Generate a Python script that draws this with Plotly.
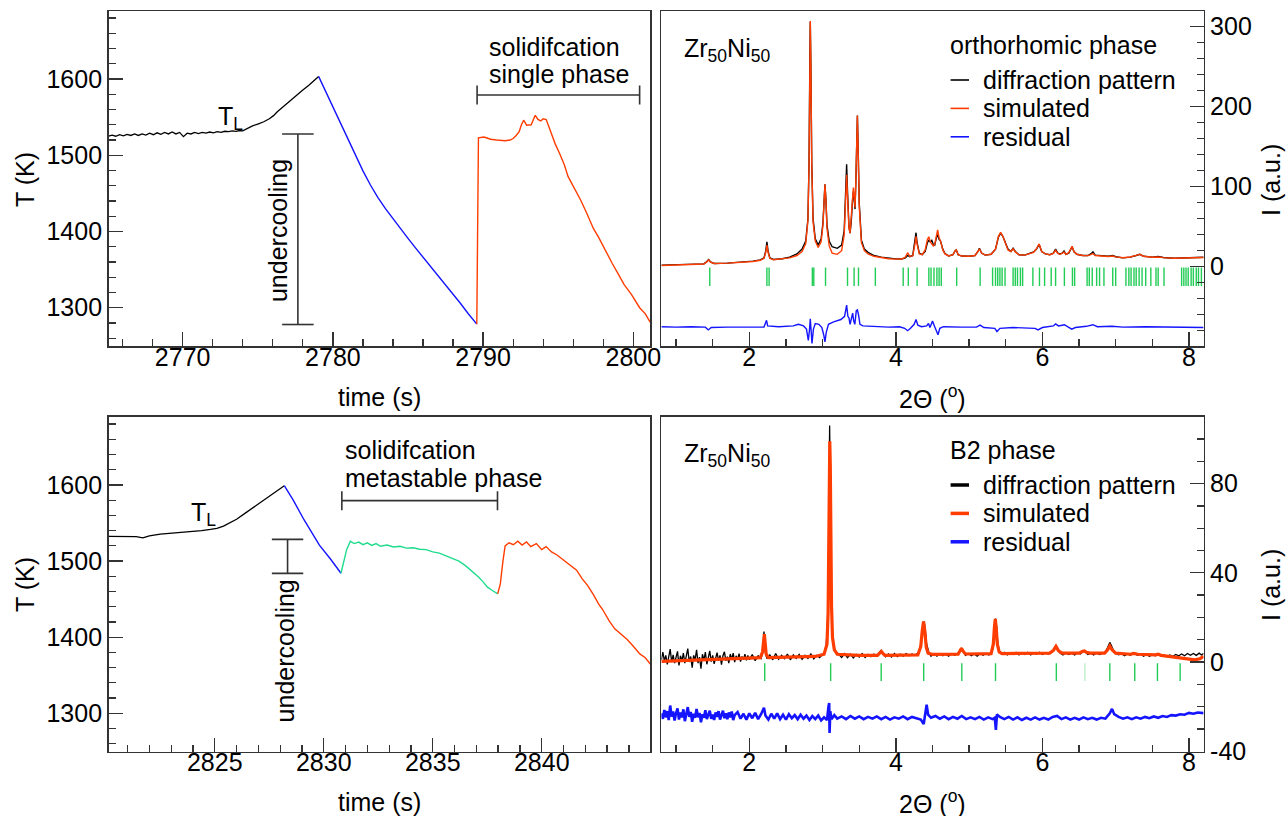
import plotly.graph_objects as go

W, H = 1287, 816
FONT = "Liberation Sans"
FS = 25

# ======================= DATA =======================
# ---- top-left: temperature-time profile, orthorhombic run ----
tl_heat = [(2765.07, 1525), (2765.3, 1526.5), (2765.55, 1525), (2765.8, 1527), (2766.05, 1525.5),
           (2766.3, 1527.5), (2766.55, 1526), (2766.8, 1528), (2767.05, 1526), (2767.3, 1528),
           (2767.55, 1526.5), (2767.8, 1529), (2768.05, 1527), (2768.3, 1529.5), (2768.55, 1527.5),
           (2768.8, 1530), (2769.05, 1528), (2769.3, 1530.5), (2769.55, 1528), (2769.8, 1530),
           (2770.05, 1524.5), (2770.3, 1529), (2770.55, 1528), (2770.8, 1530), (2771.05, 1528.5),
           (2771.3, 1530), (2771.55, 1529), (2771.8, 1530.5), (2772.05, 1529.5), (2772.3, 1531),
           (2772.55, 1530), (2772.8, 1531.5), (2773.05, 1531), (2773.3, 1532), (2773.55, 1531.5),
           (2773.8, 1532.5), (2774.0, 1532), (2774.3, 1535.5), (2774.65, 1538.5), (2775.0, 1541),
           (2775.4, 1544), (2775.77, 1548), (2776.05, 1552), (2776.3, 1557), (2776.7, 1564),
           (2777.2, 1572), (2777.6, 1579), (2778.0, 1585.5), (2778.4, 1592), (2778.7, 1597),
           (2779.05, 1603.5)]
tl_cool = [(2779.05, 1603.5), (2779.5, 1584.3), (2780.0, 1563), (2780.5, 1541.6), (2781.0, 1520.3),
           (2781.5, 1499.5), (2782.0, 1479.5), (2782.5, 1461), (2783.0, 1444.5), (2783.5, 1430),
           (2784.0, 1416.5), (2784.5, 1403.5), (2785.0, 1391), (2785.5, 1378.5), (2786.0, 1366.5),
           (2786.5, 1354.5), (2787.0, 1342.5), (2787.5, 1330.5), (2788.0, 1318), (2788.5, 1305.5),
           (2789.0, 1292.5), (2789.58, 1278.5)]
tl_solid = [(2789.58, 1278.5), (2789.62, 1400), (2789.69, 1523), (2790.06, 1524), (2790.5, 1521),
            (2790.9, 1520), (2791.46, 1519), (2791.8, 1520), (2792.0, 1522), (2792.2, 1526),
            (2792.4, 1531), (2792.55, 1540), (2792.7, 1546), (2792.9, 1539.5), (2793.2, 1540),
            (2793.47, 1552.5), (2793.65, 1547), (2793.84, 1545), (2794.0, 1548), (2794.2, 1547),
            (2794.54, 1528.5), (2794.8, 1515), (2795.1, 1502), (2795.4, 1488), (2795.66, 1472),
            (2796.1, 1456), (2796.5, 1441), (2796.9, 1424), (2797.34, 1404), (2797.7, 1392),
            (2798.18, 1373), (2798.6, 1358), (2799.0, 1344), (2799.4, 1330), (2799.86, 1318),
            (2800.1, 1310), (2800.42, 1300), (2800.8, 1292), (2801.12, 1281)]

# ---- bottom-left: temperature-time profile, metastable (B2) run ----
bl_heat = [(2820.13, 1532.5), (2820.6, 1532), (2821.0, 1532.5), (2821.4, 1532), (2821.7, 1530.5),
           (2822.0, 1533), (2822.5, 1535.5), (2823.0, 1536.5), (2823.5, 1538), (2824.0, 1539),
           (2824.4, 1540), (2824.8, 1541.5), (2825.1, 1543), (2825.4, 1546), (2826.0, 1555),
           (2826.4, 1563), (2826.8, 1571), (2827.1, 1577), (2827.4, 1583), (2827.7, 1589),
           (2828.0, 1595), (2828.19, 1599)]
bl_cool = [(2828.19, 1599), (2828.6, 1580), (2829.1, 1554), (2829.5, 1535), (2829.8, 1521),
           (2830.3, 1503), (2830.79, 1484)]
bl_meta = [(2830.79, 1484), (2830.94, 1501), (2831.05, 1515), (2831.22, 1526), (2831.4, 1523),
           (2831.6, 1525), (2831.8, 1521.5), (2832.0, 1524), (2832.2, 1520.5), (2832.4, 1523),
           (2832.6, 1519.5), (2832.9, 1521), (2833.2, 1518.5), (2833.5, 1519.5), (2833.8, 1517),
           (2834.1, 1517.5), (2834.4, 1515.5), (2834.7, 1515), (2835.0, 1512), (2835.3, 1510.5),
           (2835.6, 1507), (2835.9, 1504), (2836.2, 1500), (2836.5, 1494), (2836.8, 1487),
           (2837.1, 1479), (2837.3, 1473), (2837.5, 1466), (2837.7, 1462), (2837.98, 1457)]
bl_solid = [(2837.98, 1457), (2838.1, 1470), (2838.22, 1500), (2838.32, 1520), (2838.5, 1524),
            (2838.7, 1521.5), (2838.9, 1526), (2839.1, 1521), (2839.3, 1525), (2839.5, 1519),
            (2839.75, 1523), (2840.0, 1515), (2840.2, 1519), (2840.45, 1512), (2840.7, 1508),
            (2841.0, 1501), (2841.3, 1494), (2841.6, 1488), (2841.85, 1477), (2842.1, 1468),
            (2842.37, 1456), (2842.6, 1444), (2842.8, 1436), (2843.1, 1421), (2843.35, 1411),
            (2843.6, 1405), (2843.92, 1397), (2844.2, 1388), (2844.5, 1378), (2844.75, 1373),
            (2845.0, 1364)]

# ---- top-right: orthorhombic phase diffraction ----
tr_obs = [(0.80, 2.0), (1.00, 2.3), (1.20, 2.8), (1.38, 3.5), (1.42, 6.5), (1.445, 9.0), (1.47, 6.0),
          (1.52, 4.0), (1.70, 4.5), (1.90, 5.5), (2.05, 7.0), (2.15, 8.5), (2.20, 11), (2.225, 20),
          (2.24, 31), (2.255, 20), (2.28, 11), (2.33, 9.0), (2.45, 10), (2.55, 12), (2.65, 16),
          (2.72, 22), (2.77, 32), (2.80, 60), (2.815, 130), (2.826, 260), (2.832, 306), (2.840, 250),
          (2.852, 130), (2.87, 60), (2.90, 35), (2.94, 27), (2.98, 35), (3.005, 55), (3.02, 90),
          (3.032, 103), (3.045, 85), (3.06, 52), (3.09, 32), (3.13, 25), (3.20, 23), (3.26, 27),
          (3.295, 45), (3.315, 100), (3.328, 128), (3.34, 95), (3.36, 50), (3.375, 42), (3.39, 55),
          (3.41, 85), (3.42, 94), (3.43, 85), (3.443, 72), (3.455, 110), (3.468, 170), (3.475, 189),
          (3.485, 150), (3.50, 80), (3.53, 33), (3.57, 22), (3.62, 18), (3.70, 14), (3.80, 12),
          (3.90, 10.5), (4.00, 9.8), (4.08, 9.6), (4.13, 11), (4.16, 14), (4.19, 12.5), (4.23, 14),
          (4.26, 30), (4.275, 42.5), (4.29, 30), (4.32, 17), (4.36, 15), (4.40, 19), (4.43, 30),
          (4.45, 33), (4.47, 31), (4.49, 33), (4.51, 28), (4.53, 27), (4.555, 37), (4.57, 40),
          (4.59, 34), (4.61, 32), (4.64, 22), (4.67, 16.5), (4.72, 13.5), (4.78, 15), (4.81, 20),
          (4.825, 21), (4.85, 15), (4.90, 13.3), (5.00, 13), (5.08, 14), (5.12, 19), (5.14, 23),
          (5.17, 17), (5.22, 14.5), (5.30, 15.5), (5.36, 22), (5.40, 37), (5.43, 42), (5.46, 38),
          (5.49, 32), (5.53, 22), (5.57, 19), (5.60, 23), (5.63, 19), (5.68, 15), (5.76, 14.5),
          (5.83, 16.7), (5.88, 18.5), (5.92, 22), (5.955, 28), (5.99, 19), (6.04, 16), (6.10, 15),
          (6.15, 17), (6.18, 22), (6.21, 17), (6.24, 16), (6.27, 17), (6.295, 19.6), (6.32, 15.5),
          (6.36, 17), (6.39, 23), (6.405, 25), (6.43, 19), (6.47, 15.5), (6.55, 14), (6.62, 14),
          (6.66, 16), (6.69, 18.5), (6.72, 14.5), (6.80, 13.5), (6.90, 13), (6.96, 14), (7.00, 12.5),
          (7.10, 11), (7.20, 12), (7.28, 14), (7.33, 15.5), (7.38, 13), (7.50, 12), (7.58, 12.8),
          (7.65, 11.5), (7.80, 10.5), (7.95, 10.8), (8.10, 11.5), (8.20, 11.8)]
tr_sim = [(0.80, 1.5), (1.00, 2.0), (1.20, 2.6), (1.38, 3.4), (1.42, 6.0), (1.445, 8.5), (1.47, 5.8),
          (1.52, 4.0), (1.70, 4.5), (1.90, 5.3), (2.05, 6.6), (2.15, 8.0), (2.20, 10.5), (2.225, 18),
          (2.24, 27), (2.255, 18), (2.28, 10.5), (2.33, 8.8), (2.45, 9.5), (2.55, 11), (2.65, 14),
          (2.72, 19), (2.77, 29), (2.80, 58), (2.815, 128), (2.826, 262), (2.832, 307), (2.840, 252),
          (2.852, 128), (2.87, 56), (2.90, 32), (2.94, 24), (2.98, 31), (3.005, 52), (3.02, 90),
          (3.032, 103), (3.045, 84), (3.06, 48), (3.09, 26), (3.13, 17), (3.20, 15.5), (3.26, 20),
          (3.295, 40), (3.315, 92), (3.328, 115), (3.34, 88), (3.36, 48), (3.375, 42), (3.39, 60),
          (3.41, 92), (3.42, 99), (3.43, 90), (3.443, 74), (3.455, 112), (3.468, 172), (3.475, 189),
          (3.485, 148), (3.50, 76), (3.53, 30), (3.57, 20), (3.62, 16), (3.70, 13), (3.80, 11.5),
          (3.90, 10), (4.00, 9.5), (4.08, 9.6), (4.13, 12), (4.16, 17.5), (4.19, 13), (4.23, 13.5),
          (4.26, 28), (4.275, 38), (4.29, 28), (4.32, 16), (4.36, 15), (4.40, 21), (4.43, 34),
          (4.45, 37.5), (4.47, 31), (4.49, 29), (4.51, 26), (4.53, 28), (4.555, 42), (4.57, 46),
          (4.59, 36), (4.61, 32), (4.64, 21), (4.67, 16), (4.72, 13.5), (4.78, 15), (4.81, 20),
          (4.825, 21), (4.85, 15), (4.90, 13.3), (5.00, 13), (5.08, 14), (5.12, 19), (5.14, 22.5),
          (5.17, 17), (5.22, 14.5), (5.30, 15.5), (5.36, 22), (5.40, 38), (5.43, 43), (5.46, 38),
          (5.49, 31), (5.53, 21), (5.57, 19), (5.60, 22.5), (5.63, 18.5), (5.68, 15), (5.76, 14.5),
          (5.83, 16), (5.88, 18), (5.92, 22.5), (5.955, 28.5), (5.99, 19), (6.04, 16), (6.10, 15),
          (6.15, 16.5), (6.18, 20.5), (6.21, 16.5), (6.24, 15.5), (6.27, 16.5), (6.295, 18.5),
          (6.32, 15.5), (6.36, 17.5), (6.39, 24), (6.405, 25.5), (6.43, 19), (6.47, 15.5), (6.55, 14),
          (6.62, 13.8), (6.66, 15), (6.69, 16.5), (6.72, 14), (6.80, 13.3), (6.90, 12.8), (6.96, 13.3),
          (7.00, 12.3), (7.10, 11.2), (7.20, 12.2), (7.28, 14.2), (7.33, 15.5), (7.38, 13), (7.50, 11.8),
          (7.58, 12.2), (7.65, 11.3), (7.80, 10.5), (7.95, 10.8), (8.10, 11.3), (8.20, 11.6)]
tr_res = [(0.80, -75), (1.0, -75.5), (1.2, -75), (1.40, -75.5), (1.44, -79), (1.48, -76), (1.7, -75.5),
          (2.0, -75), (2.2, -75.5), (2.235, -67), (2.25, -74), (2.4, -75), (2.6, -74), (2.67, -72),
          (2.74, -74), (2.78, -78), (2.805, -92), (2.82, -80), (2.832, -65), (2.845, -82), (2.855, -96),
          (2.875, -78), (2.90, -71), (2.95, -72), (2.99, -76), (3.015, -85), (3.032, -94), (3.05, -82),
          (3.08, -72), (3.15, -69), (3.25, -66), (3.30, -62), (3.328, -48), (3.345, -62), (3.36, -64),
          (3.375, -72), (3.39, -66), (3.41, -58), (3.425, -68), (3.44, -72), (3.46, -55), (3.475, -54),
          (3.49, -60), (3.51, -72), (3.55, -74), (3.7, -75), (3.9, -75.5), (4.05, -75), (4.12, -77),
          (4.16, -80), (4.20, -77), (4.25, -72), (4.275, -66), (4.30, -73), (4.35, -75), (4.42, -74),
          (4.445, -71), (4.465, -76), (4.50, -68), (4.53, -75), (4.575, -85), (4.60, -77), (4.65, -75),
          (4.9, -75.5), (5.1, -75.5), (5.15, -73), (5.2, -76), (5.35, -77), (5.38, -81), (5.42, -77),
          (5.6, -76), (5.9, -77), (5.94, -79), (6.0, -76), (6.15, -74), (6.18, -71.5), (6.22, -74),
          (6.30, -72.5), (6.34, -75), (6.40, -78), (6.45, -76), (6.6, -74.5), (6.69, -72.5),
          (6.75, -75), (6.95, -74.5), (7.1, -75.5), (7.4, -75), (7.8, -75.5), (8.2, -76)]
tr_bragg = [1.46, 2.24, 2.27, 2.86, 2.88, 3.04, 3.34, 3.43, 3.49, 3.72, 4.10, 4.17, 4.29, 4.45, 4.48,
            4.52, 4.56, 4.59, 4.62, 4.83, 5.15, 5.32, 5.36, 5.39, 5.42, 5.45, 5.49, 5.60, 5.63, 5.66,
            5.70, 5.73, 5.87, 5.96, 6.03, 6.12, 6.18, 6.30, 6.41, 6.44, 6.61, 6.64, 6.68, 6.74, 6.78,
            6.84, 6.96, 7.00, 7.14, 7.18, 7.21, 7.25, 7.28, 7.32, 7.36, 7.41, 7.48, 7.55, 7.58, 7.66,
            7.90, 7.93, 7.96, 7.99, 8.03, 8.06, 8.10, 8.13, 8.17]

# ---- bottom-right: B2 phase diffraction ----
br_obs = [(0.80, 1.0), (0.82, 4.5), (0.84, 0.5), (0.86, 3.0), (0.88, -1.0), (0.90, 2.5), (0.92, 5.8),
          (0.94, 0.0), (0.96, 3.2), (0.98, -0.5), (1.00, 2.0), (1.02, 4.8), (1.04, -1.5), (1.06, 2.8),
          (1.08, 0.5), (1.10, 4.0), (1.12, -0.5), (1.14, 3.5), (1.16, 6.0), (1.18, 0.0), (1.20, 2.5),
          (1.22, -2.5), (1.24, 3.0), (1.26, 1.0), (1.28, 5.5), (1.30, -0.5), (1.32, 2.2), (1.34, -3.0),
          (1.36, 3.5), (1.38, 0.8), (1.40, 4.5), (1.42, -1.0), (1.44, 2.6), (1.46, 5.0), (1.48, 0.2),
          (1.50, 3.0), (1.52, -0.8), (1.54, 2.4), (1.56, 4.2), (1.58, 0.5), (1.60, 3.0), (1.62, -1.2),
          (1.64, 2.8), (1.66, 4.6), (1.68, 0.6), (1.70, 2.4), (1.72, -0.5), (1.74, 3.6), (1.76, 1.2),
          (1.78, 4.0), (1.80, 0.0), (1.82, 2.8), (1.84, 1.0), (1.86, 3.8), (1.88, 0.2), (1.90, 2.5),
          (1.92, 1.0), (1.94, 3.5), (1.96, 0.8), (1.98, 3.0), (2.00, 1.0), (2.04, 3.4), (2.08, 0.6),
          (2.12, 2.8), (2.16, 1.6), (2.18, 4.0), (2.19, 9.0), (2.20, 13.7), (2.21, 9.0), (2.22, 4.0),
          (2.24, 1.5), (2.28, 3.2), (2.32, 1.0), (2.36, 3.8), (2.40, 1.2), (2.44, 3.0), (2.48, 1.5),
          (2.52, 3.6), (2.56, 1.0), (2.60, 3.2), (2.64, 1.6), (2.68, 3.4), (2.72, 1.2), (2.76, 3.0),
          (2.80, 1.6), (2.84, 3.6), (2.88, 1.4), (2.92, 3.0), (2.96, 2.0), (3.00, 3.5), (3.03, 4.5),
          (3.05, 8), (3.07, 20), (3.08, 45), (3.09, 85), (3.096, 106), (3.105, 80), (3.115, 42),
          (3.125, 20), (3.14, 10), (3.17, 5), (3.22, 3.5), (3.26, 2.0), (3.30, 3.8), (3.34, 2.0),
          (3.38, 3.6), (3.42, 1.8), (3.46, 3.4), (3.50, 2.2), (3.54, 3.8), (3.58, 2.0), (3.62, 3.4),
          (3.66, 2.4), (3.70, 3.6), (3.74, 2.6), (3.77, 4.0), (3.80, 5.2), (3.83, 3.6), (3.86, 2.4),
          (3.90, 3.6), (3.94, 2.2), (3.98, 3.8), (4.02, 2.4), (4.06, 3.6), (4.10, 2.6), (4.14, 3.8),
          (4.18, 2.8), (4.22, 3.6), (4.26, 3.0), (4.30, 4.0), (4.33, 6.0), (4.35, 11), (4.37, 17),
          (4.385, 18.2), (4.40, 15), (4.42, 8), (4.45, 4.5), (4.48, 2.6), (4.52, 3.8), (4.56, 2.6),
          (4.60, 3.8), (4.64, 2.8), (4.68, 3.6), (4.72, 2.6), (4.76, 3.8), (4.80, 3.0), (4.84, 3.6),
          (4.87, 5.0), (4.895, 6.3), (4.92, 4.6), (4.95, 3.0), (4.99, 3.8), (5.03, 2.8), (5.07, 3.6),
          (5.11, 2.6), (5.15, 3.8), (5.19, 3.0), (5.23, 3.8), (5.27, 3.2), (5.31, 4.2), (5.33, 7),
          (5.35, 15), (5.36, 19.5), (5.375, 16), (5.39, 9), (5.41, 5), (5.44, 3.6), (5.48, 4.4),
          (5.52, 3.2), (5.56, 4.2), (5.60, 3.4), (5.64, 4.4), (5.68, 3.2), (5.72, 4.2), (5.76, 3.4),
          (5.80, 4.4), (5.84, 3.2), (5.88, 4.2), (5.92, 3.6), (5.96, 4.4), (6.00, 3.4), (6.04, 4.2),
          (6.08, 3.6), (6.12, 4.4), (6.15, 5.0), (6.175, 6.8), (6.19, 7.2), (6.21, 5.6), (6.24, 4.0),
          (6.28, 3.2), (6.32, 4.2), (6.36, 3.4), (6.40, 4.0), (6.44, 3.2), (6.48, 4.2), (6.52, 3.6),
          (6.56, 5.0), (6.59, 4.4), (6.62, 3.4), (6.66, 4.0), (6.70, 3.2), (6.74, 4.2), (6.78, 3.4),
          (6.82, 4.0), (6.86, 4.6), (6.89, 6.5), (6.92, 8.8), (6.94, 7.5), (6.97, 5.2), (7.00, 3.8),
          (7.04, 3.2), (7.08, 3.8), (7.12, 2.8), (7.16, 3.6), (7.20, 3.0), (7.24, 4.0), (7.27, 3.6),
          (7.30, 3.0), (7.34, 3.6), (7.38, 2.6), (7.42, 3.4), (7.46, 2.6), (7.50, 3.2), (7.54, 2.8),
          (7.58, 3.6), (7.62, 2.6), (7.66, 3.2), (7.70, 2.4), (7.74, 3.2), (7.78, 2.6), (7.82, 3.4),
          (7.86, 2.8), (7.90, 3.6), (7.94, 2.8), (7.98, 3.8), (8.02, 3.0), (8.06, 3.8), (8.10, 3.0),
          (8.14, 4.0), (8.17, 3.2), (8.20, 3.8)]
br_sim = [(0.80, 0.3), (1.2, 0.7), (1.6, 1.2), (2.0, 1.8), (2.15, 2.0), (2.18, 4.5), (2.195, 10),
          (2.205, 12.5), (2.215, 9), (2.23, 3.5), (2.26, 2.0), (2.6, 2.2), (2.9, 2.5), (3.02, 3.5),
          (3.06, 8), (3.075, 22), (3.085, 55), (3.093, 90), (3.098, 99), (3.105, 88), (3.113, 55),
          (3.122, 25), (3.135, 11), (3.16, 5.5), (3.2, 3.5), (3.5, 3.0), (3.75, 3.0), (3.78, 4.3),
          (3.80, 4.8), (3.82, 4.0), (3.85, 3.0), (4.3, 3.2), (4.34, 7), (4.36, 14), (4.378, 18.2),
          (4.395, 14), (4.415, 6.5), (4.44, 4.0), (4.5, 3.4), (4.85, 3.5), (4.88, 5.5), (4.895, 6.2),
          (4.915, 5), (4.95, 3.6), (5.3, 3.8), (5.33, 8), (5.345, 15.5), (5.357, 19.3), (5.37, 15),
          (5.385, 8), (5.41, 4.5), (5.45, 3.8), (6.1, 4.0), (6.15, 5.2), (6.185, 7.0), (6.22, 5.0),
          (6.27, 4.0), (6.5, 4.0), (6.55, 4.8), (6.575, 5.0), (6.60, 4.4), (6.65, 4.0), (6.85, 4.0),
          (6.89, 5.5), (6.92, 7.2), (6.95, 5.5), (7.0, 4.0), (7.2, 3.5), (7.25, 3.9), (7.3, 3.5),
          (7.55, 3.2), (7.58, 3.5), (7.62, 3.0), (7.86, 2.0), (8.0, 1.5), (8.08, 1.0), (8.15, 1.5),
          (8.20, 2.5)]
br_res = [(0.80, -23.0), (0.82, -25.5), (0.84, -21.5), (0.86, -24.8), (0.88, -22.0), (0.90, -26.0),
          (0.92, -19.5), (0.94, -24.5), (0.96, -22.2), (0.98, -26.2), (1.00, -23.0), (1.02, -20.8),
          (1.04, -25.8), (1.06, -22.6), (1.08, -24.8), (1.10, -21.2), (1.12, -26.5), (1.14, -23.0),
          (1.16, -20.2), (1.18, -24.6), (1.20, -22.4), (1.22, -26.8), (1.24, -23.2), (1.26, -25.0),
          (1.28, -21.0), (1.30, -24.8), (1.32, -22.8), (1.34, -27.0), (1.36, -23.4), (1.38, -25.0),
          (1.40, -21.6), (1.42, -25.6), (1.44, -23.2), (1.46, -21.8), (1.48, -25.4), (1.50, -23.6),
          (1.52, -26.0), (1.54, -22.6), (1.56, -24.6), (1.58, -22.0), (1.60, -25.8), (1.62, -23.4),
          (1.64, -21.8), (1.66, -25.2), (1.68, -23.0), (1.70, -25.6), (1.72, -22.6), (1.74, -24.8),
          (1.76, -22.2), (1.78, -26.0), (1.80, -23.8), (1.84, -22.4), (1.88, -25.4), (1.92, -23.2),
          (1.96, -25.8), (2.00, -23.0), (2.04, -25.2), (2.08, -22.8), (2.12, -25.6), (2.16, -23.4),
          (2.20, -20.5), (2.22, -24.0), (2.26, -25.8), (2.30, -23.2), (2.34, -25.4), (2.38, -23.0),
          (2.42, -25.6), (2.46, -23.6), (2.50, -25.8), (2.54, -23.4), (2.58, -25.2), (2.62, -23.8),
          (2.66, -25.6), (2.70, -23.6), (2.74, -25.4), (2.78, -24.0), (2.82, -26.0), (2.86, -24.2),
          (2.90, -25.6), (2.94, -24.0), (2.98, -26.2), (3.02, -24.8), (3.06, -26.0), (3.08, -20.0),
          (3.09, -18.4), (3.095, -31.8), (3.10, -27), (3.105, -22), (3.12, -25.6), (3.16, -23.8),
          (3.20, -25.4), (3.26, -24.4), (3.32, -25.6), (3.38, -24.2), (3.44, -25.4), (3.50, -24.4),
          (3.56, -25.6), (3.62, -24.6), (3.68, -25.4), (3.74, -24.4), (3.80, -25.6), (3.86, -24.6),
          (3.92, -25.8), (3.98, -24.8), (4.04, -25.4), (4.10, -24.4), (4.16, -25.6), (4.22, -24.6),
          (4.28, -25.2), (4.34, -25.8), (4.38, -27.8), (4.40, -22.0), (4.42, -19.1), (4.44, -23.6),
          (4.48, -25.0), (4.54, -24.2), (4.60, -25.4), (4.66, -24.4), (4.72, -25.6), (4.78, -24.6),
          (4.84, -25.4), (4.90, -24.2), (4.96, -25.6), (5.02, -24.8), (5.08, -25.6), (5.14, -24.6),
          (5.20, -25.8), (5.26, -24.8), (5.32, -25.6), (5.35, -25.0), (5.365, -30.4), (5.38, -23.5),
          (5.42, -24.6), (5.48, -25.6), (5.54, -24.6), (5.60, -25.8), (5.66, -24.8), (5.72, -26.0),
          (5.78, -25.0), (5.84, -25.8), (5.90, -24.8), (5.96, -25.8), (6.02, -25.0), (6.08, -25.8),
          (6.14, -24.6), (6.20, -24.2), (6.26, -25.6), (6.32, -24.8), (6.38, -25.8), (6.44, -25.0),
          (6.50, -25.8), (6.56, -24.8), (6.62, -25.6), (6.68, -25.0), (6.74, -25.8), (6.80, -25.0),
          (6.86, -25.4), (6.92, -23.0), (6.95, -21.0), (6.98, -23.4), (7.04, -24.6), (7.10, -25.4),
          (7.16, -24.8), (7.22, -25.6), (7.28, -24.8), (7.34, -25.4), (7.40, -24.6), (7.46, -25.2),
          (7.52, -24.4), (7.58, -25.0), (7.64, -24.2), (7.70, -24.6), (7.76, -23.8), (7.82, -24.0),
          (7.88, -23.4), (7.94, -23.6), (8.00, -22.8), (8.06, -23.2), (8.12, -22.6), (8.20, -22.9)]
br_bragg = [2.21, 3.11, 3.80, 4.38, 4.90, 5.36, 6.19, 6.92, 7.26, 7.57, 7.88]
br_bragg_faint = [6.58]

# tick marks / labels
tl_xticks = [2770, 2780, 2790, 2800]
bl_xticks = [2825, 2830, 2835, 2840]
t_yticks = [1300, 1400, 1500, 1600]
tr_yticks = [0, 100, 200, 300]
br_yticks = [-40, 0, 40, 80]
br_yticklabels = ["-40", "0", "40", "80"]
xrd_xticks = [2, 4, 6, 8]

# annotation anchor points (data units)
tl_undercool = dict(x=2777.67, y0=1278, y1=1528, cap=1.05)
bl_undercool = dict(x=2828.34, y0=1483.8, y1=1528.5, cap=0.72)
tl_solidbar = dict(x0=2789.6, x1=2800.42, y=1579, cap=12.5)
bl_solidbar = dict(x0=2830.83, x1=2837.97, y=1579.4, cap=12.5)

# ======================= FIGURE =======================
def unzip(pairs):
    return [p[0] for p in pairs], [p[1] for p in pairs]

def px_x(p):
    return p / W

def px_y(p):
    return 1 - p / H

LEFT = [px_x(108.6), px_x(650.3)]
RIGHT = [px_x(661.4), px_x(1203.6)]
TOP = [px_y(346), px_y(11)]
BOT = [px_y(751.7), px_y(416.7)]

LC = "#333333"
tickfont = dict(family=FONT, size=FS, color="black")

def axis(domain, rng, tvals, ttext, minor_vals, anchor, side=None, standoff=None):
    d = dict(domain=domain, range=rng, anchor=anchor, tickmode="array", tickvals=tvals,
             ticktext=ttext, ticks="inside", ticklen=14, tickwidth=1.3, tickcolor=LC,
             showline=True, linecolor=LC, linewidth=1.5, mirror=True, showgrid=False,
             zeroline=False, tickfont=tickfont, fixedrange=True,
             minor=dict(tickmode="array", tickvals=minor_vals, ticks="inside", ticklen=7,
                        tickwidth=1.3, tickcolor=LC, showgrid=False))
    if side:
        d["side"] = side
    if standoff is not None:
        d["ticklabelstandoff"] = standoff
    return d

fig = go.Figure()

def line(pairs, color, width, xa, ya):
    x, y = unzip(pairs)
    fig.add_trace(go.Scatter(x=x, y=y, mode="lines", line=dict(color=color, width=width),
                             xaxis=xa, yaxis=ya, showlegend=False, hoverinfo="skip"))

def bragg(pos, y0, y1, color, xa, ya, opacity=1.0):
    xs, ys = [], []
    for p in pos:
        xs += [p, p, None]
        ys += [y0, y1, None]
    fig.add_trace(go.Scatter(x=xs, y=ys, mode="lines", line=dict(color=color, width=1.4),
                             opacity=opacity, xaxis=xa, yaxis=ya, showlegend=False,
                             hoverinfo="skip"))

BLACK = "#000000"
ORANGE = "#ff3d00"
BLUE = "#1414ff"
GREEN = "#22cc55"
TEAL = "#1fdc8c"

# top-left
line(tl_heat, BLACK, 1.3, "x", "y")
line(tl_cool, BLUE, 1.4, "x", "y")
line(tl_solid, ORANGE, 1.4, "x", "y")
# top-right
bragg(tr_bragg, -1, -24, GREEN, "x2", "y2")
line(tr_res, BLUE, 1.4, "x2", "y2")
line(tr_obs, BLACK, 1.4, "x2", "y2")
line(tr_sim, ORANGE, 1.4, "x2", "y2")
# bottom-left
line(bl_heat, BLACK, 1.3, "x3", "y3")
line(bl_cool, BLUE, 1.4, "x3", "y3")
line(bl_meta, TEAL, 1.4, "x3", "y3")
line(bl_solid, ORANGE, 1.4, "x3", "y3")
# bottom-right
bragg(br_bragg, -0.5, -8.5, GREEN, "x4", "y4")
bragg(br_bragg_faint, -0.5, -8.5, GREEN, "x4", "y4", opacity=0.3)
line(br_res, BLUE, 2.6, "x4", "y4")
line(br_obs, BLACK, 1.3, "x4", "y4")
line(br_sim, ORANGE, 3.2, "x4", "y4")

XS = -12   # x tick-label standoff
minor_t_y = list(range(1260, 1690, 20))
fig.update_layout(
    width=W, height=H, margin=dict(l=0, r=0, t=0, b=0, autoexpand=False),
    paper_bgcolor="white", plot_bgcolor="white",
    font=dict(family=FONT, size=FS, color="black"),
    hovermode=False,
    xaxis=axis(LEFT, [2765.07, 2801.13], tl_xticks, [str(v) for v in tl_xticks],
               list(range(2766, 2802, 2)), "y", standoff=XS),
    yaxis=axis(TOP, [1249.8, 1689.3], t_yticks, [str(v) for v in t_yticks], minor_t_y, "x"),
    xaxis2=axis(RIGHT, [0.8, 8.2], xrd_xticks, [str(v) for v in xrd_xticks],
                [v / 2 for v in range(2, 17)], "y2", standoff=XS),
    yaxis2=axis(TOP, [-99.1, 319.6], tr_yticks, [str(v) for v in tr_yticks],
                list(range(-80, 320, 20)), "x2", side="right"),
    xaxis3=axis(LEFT, [2820.13, 2844.98], bl_xticks, [str(v) for v in bl_xticks],
                list(range(2821, 2845)), "y3", standoff=XS),
    yaxis3=axis(BOT, [1249.5, 1689.7], t_yticks, [str(v) for v in t_yticks], minor_t_y, "x3"),
    xaxis4=axis(RIGHT, [0.8, 8.2], xrd_xticks, [str(v) for v in xrd_xticks],
                [v / 2 for v in range(2, 17)], "y4", standoff=XS),
    yaxis4=axis(BOT, [-40.2, 110], br_yticks, br_yticklabels, list(range(-40, 110, 10)), "x4",
                side="right"),
)

shapes = []
ann = []

def seg(x0, y0, x1, y1, xref, yref, color=LC, width=1.6):
    shapes.append(dict(type="line", x0=x0, y0=y0, x1=x1, y1=y1, xref=xref, yref=yref,
                       line=dict(color=color, width=width)))

def text(t, x, y, xref, yref, xanchor="center", yanchor="middle", angle=0, size=FS):
    ann.append(dict(text=t, x=x, y=y, xref=xref, yref=yref, xanchor=xanchor, yanchor=yanchor,
                    showarrow=False, textangle=angle, borderpad=0,
                    font=dict(family=FONT, size=size, color="black")))

# undercooling bars
for u, xr, yr in [(tl_undercool, "x", "y"), (bl_undercool, "x3", "y3")]:
    seg(u["x"], u["y0"], u["x"], u["y1"], xr, yr)
    seg(u["x"] - u["cap"], u["y0"], u["x"] + u["cap"], u["y0"], xr, yr)
    seg(u["x"] - u["cap"], u["y1"], u["x"] + u["cap"], u["y1"], xr, yr)
# solidification bars
for b, xr, yr in [(tl_solidbar, "x", "y"), (bl_solidbar, "x3", "y3")]:
    seg(b["x0"], b["y"], b["x1"], b["y"], xr, yr)
    seg(b["x0"], b["y"] - b["cap"], b["x0"], b["y"] + b["cap"], xr, yr)
    seg(b["x1"], b["y"] - b["cap"], b["x1"], b["y"] + b["cap"], xr, yr)

# panel texts (left)
text("T<sub>L</sub>", 2773.2, 1549, "x", "y")
text("undercooling", 2776.3, 1401, "x", "y", angle=-90)
text("solidifcation", 2790.34, 1642.5, "x", "y", xanchor="left")
text("single phase", 2790.34, 1606, "x", "y", xanchor="left")

text("T<sub>L</sub>", 2824.5, 1562, "x3", "y3")
text("undercooling", 2828.2, 1382, "x3", "y3", angle=-90)
text("solidifcation", 2830.95, 1645.5, "x3", "y3", xanchor="left")
text("metastable phase", 2830.95, 1608.5, "x3", "y3", xanchor="left")

# axis titles
for py in (180, 585):
    text("T (K)", px_x(25), px_y(py), "paper", "paper", angle=-90)
    text("I (a.u.)", px_x(1271), px_y(py), "paper", "paper", angle=-90)
for py in (397, 802):
    text("time (s)", px_x(379.5), px_y(py), "paper", "paper")
    text("2Θ (<sup>o</sup>)", px_x(932.5), px_y(py), "paper", "paper")

# right-panel labels and legends
legend_rows = [("diffraction pattern", BLACK), ("simulated", ORANGE), ("residual", BLUE)]
for top, title, lw in [(0, "orthorhomic phase", 1.6), (405, "B2 phase", 3.5)]:
    text("Zr<sub>50</sub>Ni<sub>50</sub>", px_x(682.5), px_y(top + 50), "paper", "paper",
         xanchor="left")
    text(title, px_x(949.4), px_y(top + 45), "paper", "paper", xanchor="left")
    for i, (lab, col) in enumerate(legend_rows):
        yy = top + 80 + 28.4 * i
        seg(px_x(950.6), px_y(yy), px_x(969), px_y(yy), "paper", "paper", color=col, width=lw)
        text(lab, px_x(982.3), px_y(yy), "paper", "paper", xanchor="left")

fig.update_layout(shapes=shapes, annotations=ann)
fig.write_html("out.html", config={"displayModeBar": False, "staticPlot": True},
               post_script="document.body.style.margin='0px';document.body.style.padding='0px';")
